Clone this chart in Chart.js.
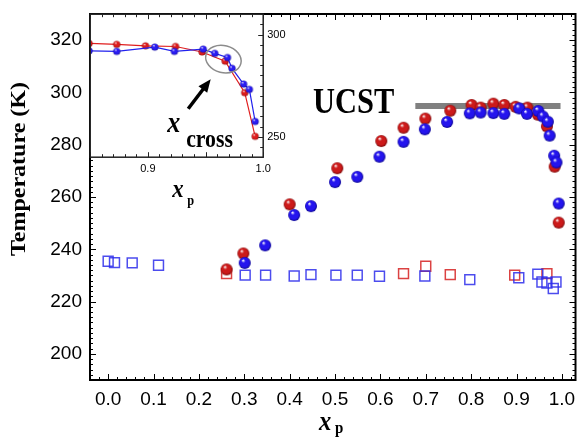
<!DOCTYPE html>
<html>
<head>
<meta charset="utf-8">
<script src="https://cdn.jsdelivr.net/npm/chart.js@4/dist/chart.umd.min.js"></script>
<style>
html, body { margin: 0; padding: 0; background: #fff; }
#wrap { position: relative; width: 584px; height: 439px; }
#main { position: absolute; left: 0; top: 0; }
#inset { position: absolute; left: 88px; top: 12px; }
</style>
</head>
<body>
<div id="wrap">
  <canvas id="main" width="584" height="439"></canvas>
  <canvas id="inset" width="210" height="205"></canvas>
</div>
<script>
// cloud points (filled spheres)
const redX = [0.261, 0.298, 0.400, 0.505, 0.602, 0.651, 0.699, 0.754, 0.801, 0.821, 0.849, 0.873, 0.898, 0.924, 0.947, 0.967, 0.984, 0.993];
const redY = [232.3, 238.4, 257.2, 271.0, 281.4, 286.5, 290.0, 293.0, 295.2, 294.2, 295.7, 295.2, 294.5, 294.2, 291.5, 287.0, 271.6, 250.2];
const blueX = [0.301, 0.346, 0.410, 0.447, 0.500, 0.549, 0.598, 0.651, 0.698, 0.747, 0.797, 0.821, 0.849, 0.873, 0.906, 0.923, 0.948, 0.958, 0.969, 0.973, 0.983, 0.988, 0.993];
const blueY = [234.8, 241.5, 253.1, 256.5, 265.7, 267.7, 275.4, 281.1, 285.9, 288.7, 292.0, 292.3, 292.1, 291.8, 293.9, 291.8, 292.9, 290.8, 288.8, 283.5, 275.8, 273.2, 257.5];

// open squares
const blueSqX = [0.000, 0.014, 0.053, 0.111, 0.302, 0.347, 0.410, 0.447, 0.502, 0.549, 0.598, 0.698, 0.797, 0.905, 0.947, 0.956, 0.967, 0.981, 0.987];
const blueSqY = [235.4, 234.9, 234.8, 233.9, 230.1, 230.1, 229.8, 230.3, 230.1, 230.1, 229.7, 229.8, 228.4, 229.1, 230.5, 227.5, 227.1, 225.0, 227.5];
const redSqX = [0.261, 0.651, 0.700, 0.754, 0.896, 0.967];
const redSqY = [230.7, 230.7, 233.5, 230.3, 230.1, 230.7];

// UCST bar
const ucstX = [0.677, 0.997];
const ucstY = [294.8, 294.8];

// tick labels
const xTicks = [0.0, 0.1, 0.2, 0.3, 0.4, 0.5, 0.6, 0.7, 0.8, 0.9, 1.0];
const yTicks = [200, 220, 240, 260, 280, 300, 320];
const insetXTicks = [0.9, 1.0];
const insetYTicks = [250, 300];

// where the inset box sits on the page
const INSET_LEFT = 90, INSET_TOP = 14, INSET_W = 173, INSET_H = 146;

const pts = (xs, ys) => xs.map((x, i) => ({ x: x, y: ys[i] }));

function sphere(r, base, dark) {
  const c = document.createElement('canvas');
  const s = Math.ceil(r * 2) + 2;
  c.width = c.height = s;
  const g = c.getContext('2d');
  const m = s / 2;
  const grad = g.createRadialGradient(m - r * 0.3, m - r * 0.45, r * 0.05, m, m, r);
  grad.addColorStop(0, '#ffffff');
  grad.addColorStop(0.3, base);
  grad.addColorStop(0.75, base);
  grad.addColorStop(1, dark);
  g.fillStyle = grad;
  g.beginPath();
  g.arc(m, m, r, 0, Math.PI * 2);
  g.fill();
  return c;
}

const redBall = sphere(6, '#cc1a1a', '#7a0808');
const blueBall = sphere(6, '#2414ee', '#0c0690');
const redDot = sphere(3.6, '#dd1c1c', '#8a0a0a');
const blueDot = sphere(3.6, '#2a1cf2', '#10089a');

function drawText(ctx, str, x, y, font, sx) {
  ctx.save();
  ctx.translate(x, y);
  ctx.scale(sx, 1);
  ctx.font = font;
  ctx.fillStyle = '#000';
  ctx.textAlign = 'left';
  ctx.textBaseline = 'alphabetic';
  ctx.fillText(str, 0, 0);
  ctx.restore();
}

// fixed axis size, no label overflow padding
function fixSize(w, h) {
  return s => {
    if (w != null) s.width = w;
    if (h != null) s.height = h;
    s.paddingTop = s.paddingBottom = s.paddingLeft = s.paddingRight = 0;
  };
}

// box frame with inward major/minor ticks
function frame(cfg) {
  return {
    id: 'frame',
    beforeDatasetsDraw(chart) {
      if (!cfg.fill) return;
      const a = chart.chartArea;
      chart.ctx.save();
      chart.ctx.fillStyle = '#fff';
      chart.ctx.fillRect(a.left, a.top, a.right - a.left, a.bottom - a.top);
      chart.ctx.restore();
    },
    afterDatasetsDraw(chart) {
      const { ctx, chartArea: a, scales } = chart;
      const sx = scales.x, sy = scales.y;
      ctx.save();
      ctx.strokeStyle = cfg.color;
      ctx.lineWidth = 1;
      ctx.beginPath();
      const isMajor = (v, step) => Math.abs(v / step - Math.round(v / step)) < 1e-6;
      for (let i = Math.ceil(sx.min / cfg.xMinor - 1e-9); i * cfg.xMinor <= sx.max + 1e-9; i++) {
        const v = i * cfg.xMinor;
        const p = Math.round(sx.getPixelForValue(v)) + 0.5;
        const len = isMajor(v, cfg.xMajor) ? cfg.major : cfg.minor;
        if (cfg.sides.includes('b')) { ctx.moveTo(p, a.bottom); ctx.lineTo(p, a.bottom - len); }
        if (cfg.sides.includes('t')) { ctx.moveTo(p, a.top); ctx.lineTo(p, a.top + len); }
      }
      for (let i = Math.ceil(sy.min / cfg.yMinor - 1e-9); i * cfg.yMinor <= sy.max + 1e-9; i++) {
        const v = i * cfg.yMinor;
        const p = Math.round(sy.getPixelForValue(v)) + 0.5;
        const len = isMajor(v, cfg.yMajor) ? cfg.major : cfg.minor;
        if (cfg.sides.includes('l')) { ctx.moveTo(a.left, p); ctx.lineTo(a.left + len, p); }
        if (cfg.sides.includes('r')) { ctx.moveTo(a.right, p); ctx.lineTo(a.right - len, p); }
      }
      ctx.stroke();
      ctx.lineWidth = cfg.width;
      ctx.strokeRect(a.left, a.top, a.right - a.left, a.bottom - a.top);
      ctx.restore();
      if (cfg.extra) cfg.extra(chart);
    }
  };
}

new Chart(document.getElementById('main'), {
  type: 'scatter',
  data: {
    datasets: [
      { data: pts(blueX, blueY), pointStyle: blueBall, pointRadius: 6 },
      { data: pts(redX, redY), pointStyle: redBall, pointRadius: 6 },
      { data: pts(ucstX, ucstY), showLine: true, borderColor: '#808080', borderWidth: 6, pointRadius: 0, borderCapStyle: 'butt' },
      { data: pts(blueSqX, blueSqY), pointStyle: 'rect', pointRadius: 7, borderWidth: 1.5,
        borderColor: 'rgba(45,45,235,0.85)', backgroundColor: 'rgba(0,0,0,0)' },
      { data: pts(redSqX, redSqY), pointStyle: 'rect', pointRadius: 7, borderWidth: 1.5,
        borderColor: 'rgba(215,45,45,0.9)', backgroundColor: 'rgba(0,0,0,0)' }
    ]
  },
  options: {
    responsive: false,
    animation: false,
    events: [],
    layout: { padding: { top: 14, right: 4, left: 0, bottom: 0 } },
    plugins: { legend: { display: false }, tooltip: { enabled: false } },
    scales: {
      x: {
        type: 'linear', min: -0.04, max: 1.03,
        grid: { display: false, drawTicks: false }, border: { display: false },
        afterBuildTicks: s => { s.ticks = xTicks.map(v => ({ value: v })); },
        afterFit: fixSize(null, 59),
        ticks: { padding: 8, color: '#000', font: { family: 'Liberation Sans', size: 19 },
                 callback: v => v.toFixed(1) }
      },
      y: {
        type: 'linear', min: 190, max: 330,
        grid: { display: false, drawTicks: false }, border: { display: false },
        afterBuildTicks: s => { s.ticks = yTicks.map(v => ({ value: v })); },
        afterFit: fixSize(90, null),
        ticks: { padding: 8, color: '#000', font: { family: 'Liberation Sans', size: 19 } }
      }
    }
  },
  plugins: [frame({
    color: '#000', width: 2, major: 6, minor: 3,
    xMinor: 0.02, xMajor: 0.1, yMinor: 2, yMajor: 20, sides: 'tblr',
    extra(chart) {
      const ctx = chart.ctx;
      ctx.save();
      ctx.translate(20, 169);
      ctx.scale(0.85, 1);
      ctx.rotate(-Math.PI / 2);
      ctx.font = 'bold 24px "Liberation Serif"';
      ctx.fillStyle = '#000';
      ctx.textAlign = 'center';
      ctx.textBaseline = 'middle';
      ctx.fillText('Temperature (K)', 0, 0);
      ctx.restore();
      drawText(ctx, 'x', 319, 430, 'italic bold 28px "Liberation Serif"', 0.88);
      drawText(ctx, 'p', 335, 433, 'bold 17px "Liberation Serif"', 0.88);
      drawText(ctx, 'UCST', 313, 113, 'bold 35px "Liberation Serif"', 0.87);
    }
  })]
});

const insetEl = document.getElementById('inset');
const inset = new Chart(insetEl, {
  type: 'scatter',
  data: {
    datasets: [
      { data: pts(blueX, blueY), showLine: true, borderColor: '#2222ee', borderWidth: 1.2,
        pointStyle: blueDot, pointRadius: 4, clip: 0 },
      { data: pts(redX, redY), showLine: true, borderColor: '#e01e1e', borderWidth: 1.2,
        pointStyle: redDot, pointRadius: 4, clip: 0 }
    ]
  },
  options: {
    responsive: false,
    animation: false,
    events: [],
    layout: { padding: { top: 2, left: 2, right: 0, bottom: 0 } },
    plugins: { legend: { display: false }, tooltip: { enabled: false } },
    scales: {
      x: {
        type: 'linear', min: 0.85, max: 1.0,
        grid: { display: false, drawTicks: false }, border: { display: false },
        afterBuildTicks: s => { s.ticks = insetXTicks.map(v => ({ value: v })); },
        afterFit: fixSize(null, 55),
        ticks: { padding: 5, color: '#000', font: { family: 'Liberation Sans', size: 11 },
                 callback: v => v.toFixed(1) }
      },
      y: {
        type: 'linear', min: 240, max: 310, position: 'right',
        grid: { display: false, drawTicks: false }, border: { display: false },
        afterBuildTicks: s => { s.ticks = insetYTicks.map(v => ({ value: v })); },
        afterFit: fixSize(30, null),
        ticks: { padding: 4, color: '#000', font: { family: 'Liberation Sans', size: 11 } }
      }
    }
  },
  plugins: [frame({
    fill: true, color: '#222', width: 1.5, major: 5, minor: 3,
    xMinor: 0.01, xMajor: 0.05, yMinor: 5, yMajor: 50, sides: 'tbr',
    extra(chart) {
      const ctx = chart.ctx;
      const a = chart.chartArea;
      const sx = chart.scales.x, sy = chart.scales.y;
      // page position -> inset canvas position
      const X = v => v - INSET_LEFT + a.left;
      const Y = v => v - INSET_TOP + a.top;
      // circle round the crossing
      ctx.save();
      ctx.strokeStyle = '#8c8c8c';
      ctx.lineWidth = 1.5;
      ctx.beginPath();
      ctx.ellipse(sx.getPixelForValue(0.9655), sy.getPixelForValue(288), 18, 13.5, 0.25, 0, Math.PI * 2);
      ctx.stroke();
      // arrow
      const tail = { x: X(188), y: Y(108.5) }, tip = { x: X(210.5), y: Y(79) };
      const dx = tip.x - tail.x, dy = tip.y - tail.y, L = Math.hypot(dx, dy);
      const ux = dx / L, uy = dy / L, hl = 13, hw = 5.5;
      const bx = tip.x - ux * hl, by = tip.y - uy * hl;
      ctx.strokeStyle = '#000';
      ctx.fillStyle = '#000';
      ctx.lineWidth = 3.5;
      ctx.beginPath();
      ctx.moveTo(tail.x, tail.y);
      ctx.lineTo(bx + ux * 2, by + uy * 2);
      ctx.stroke();
      ctx.beginPath();
      ctx.moveTo(tip.x, tip.y);
      ctx.lineTo(bx - uy * hw, by + ux * hw);
      ctx.lineTo(bx + uy * hw, by - ux * hw);
      ctx.closePath();
      ctx.fill();
      ctx.restore();
      drawText(ctx, 'x', X(167), Y(132), 'italic bold 30px "Liberation Serif"', 0.87);
      drawText(ctx, 'cross', X(186), Y(147), 'bold 25px "Liberation Serif"', 0.87);
      drawText(ctx, 'x', X(172), Y(197), 'italic bold 26px "Liberation Serif"', 0.88);
      drawText(ctx, 'p', X(187), Y(205), 'bold 14px "Liberation Serif"', 0.88);
    }
  })]
});

// size and place the inset box on the main axes
const ia = inset.chartArea;
const dw = INSET_W - (ia.right - ia.left), dh = INSET_H - (ia.bottom - ia.top);
if (Math.abs(dw) > 0.5 || Math.abs(dh) > 0.5) inset.resize(insetEl.width + dw, insetEl.height + dh);
insetEl.style.left = (INSET_LEFT - inset.chartArea.left) + 'px';
insetEl.style.top = (INSET_TOP - inset.chartArea.top) + 'px';
</script>
</body>
</html>
